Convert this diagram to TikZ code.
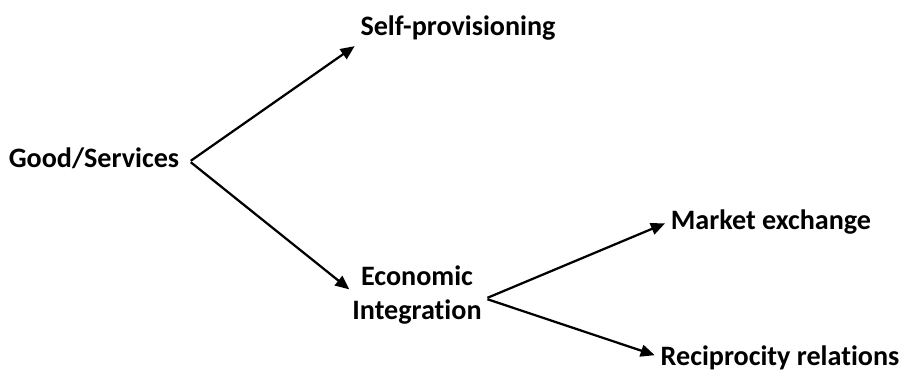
\documentclass[tikz,border=0pt]{standalone}
\usepackage{fontspec}
\setmainfont[Ligatures=NoCommon]{Carlito}
\usepackage{tikz}
\usetikzlibrary{arrows.meta}

\tikzset{
	lbl/.style={font=\fontsize{20}{24}\selectfont\bfseries, inner sep=4pt, align=center},
	arr/.style={line width=1.6pt, -{Triangle[length=10pt, width=8.5pt]}}
}

\begin{document}
\begin{tikzpicture}[x=0.025cm, y=-0.025cm]
					% Page frame
					\useasboundingbox (0,0) rectangle (901,376);
					% Place the labels
					\node[lbl] (goods) at (94,158) {Good/Services};
					\node[lbl] (self) at (458,28) {Self-provisioning};
					\node[lbl] (econ) at (417,295) {Economic\\[0pt]Integration};
					\node[lbl] (market) at (771,222) {Market exchange};
					\node[lbl] (recip) at (780,358) {Reciprocity relations};
					% Connect them
					\draw[arr] ([xshift=4pt,yshift=-2pt]goods.east) -- (self.south west);
					\draw[arr] ([xshift=4pt,yshift=-3pt]goods.east) -- ([xshift=2pt,yshift=4pt]econ.west);
					\draw[arr] ([yshift=-2pt]econ.east) -- ([yshift=-1pt]market.west);
					\draw[arr] ([yshift=-3pt]econ.east) -- ([yshift=2pt]recip.west);
				\end{tikzpicture}
\end{document}
